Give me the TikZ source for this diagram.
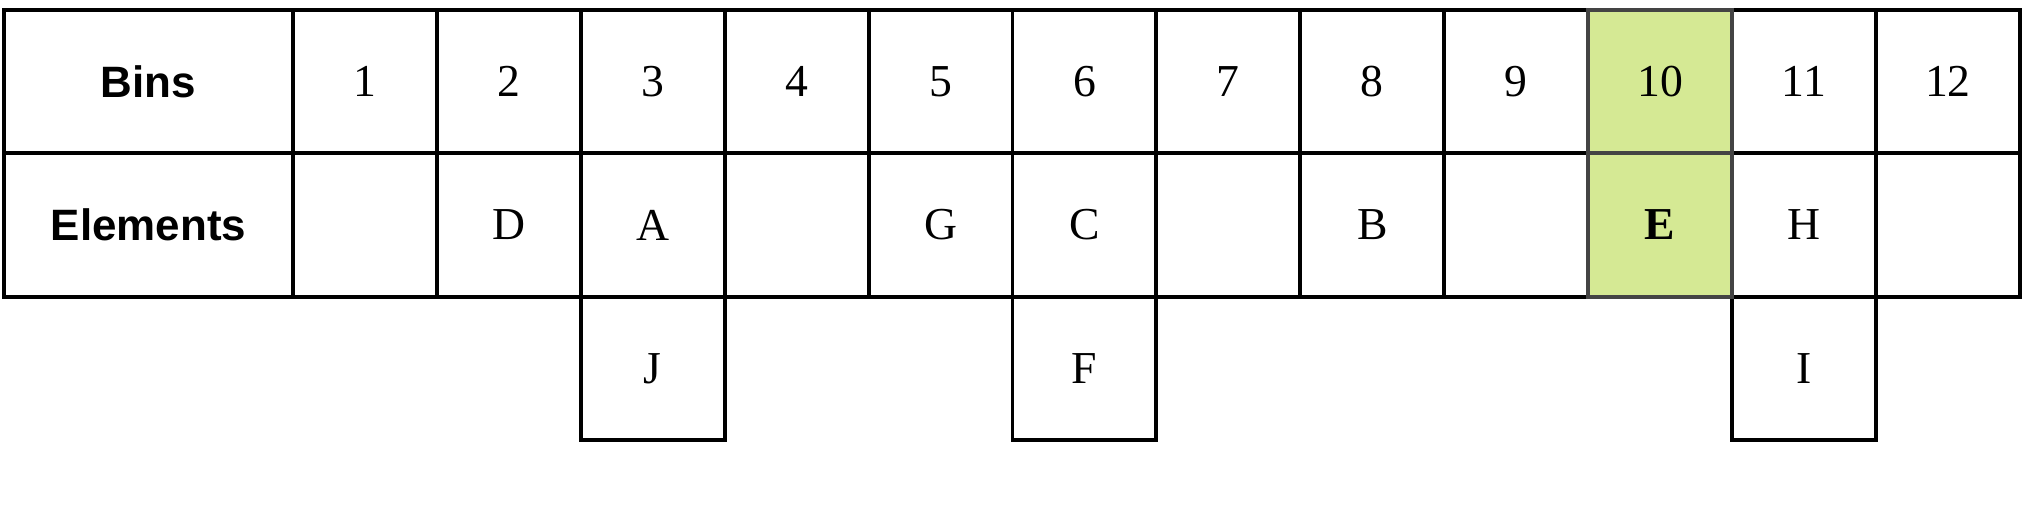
\documentclass[tikz,border=0pt]{standalone}
\usepackage{fontspec}
\setmainfont{Liberation Serif}
\setsansfont{Liberation Sans}
\usepackage{tikz}
\usetikzlibrary{positioning}
\definecolor{hitgreen}{HTML}{D5E994}
\definecolor{hitline}{HTML}{444444}

\begin{document}
\begin{tikzpicture}[
  cell/.style={draw=black, line width=1.1pt, minimum width=1.439cm, minimum height=1.435cm,
    inner sep=0pt, outer sep=0pt, font=\fontsize{13}{15}\selectfont},
  head/.style={cell, minimum width=2.89cm, font=\sffamily\bfseries\fontsize{12.5}{14}\selectfont},
  hit/.style={cell, fill=hitgreen, draw=hitline}]
  \useasboundingbox (0,0) rectangle (20.30,5.12);
  \node[head] (bins) at (1.485,4.305) {Bins};
  \node[head, below=0pt of bins] (elems) {Elements};
  \foreach \i/\e in {1/{},2/D,3/A,4/{},5/G,6/C,7/{},8/B,9/{},11/H,12/{}} {
    \node[cell] (bin\i) at ({2.93+(\i-0.5)*1.439},4.305) {\i};
    \node[cell, below=0pt of bin\i] (el\i) {\e};
  }
  % overflow row
  \node[cell, below=0pt of el3] (el3b) {J};
  \node[cell, below=0pt of el6] (el6b) {F};
  \node[cell, below=0pt of el11] (el11b) {I};
  % bin 10 highlighted
  \node[hit] (bin10) at ({2.93+9.5*1.439},4.305) {10};
  \node[hit, below=0pt of bin10] (el10) {\textbf{E}};
\end{tikzpicture}
\end{document}
